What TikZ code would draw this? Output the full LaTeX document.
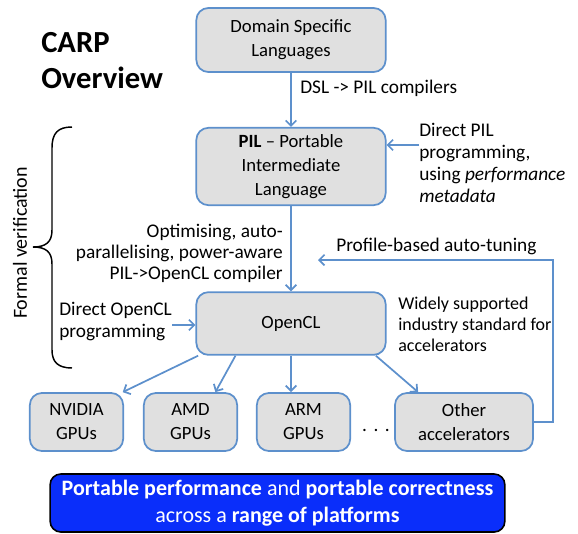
\documentclass[tikz,border=0pt]{standalone}
\usepackage{fontspec}
\setmainfont{Carlito}
\usepackage{xcolor}
\usepackage{tikz}
\usetikzlibrary{arrows.meta,positioning}

\definecolor{edgeblue}{RGB}{93,144,204}
\definecolor{boxgray}{RGB}{224,224,224}
\definecolor{perfblue}{RGB}{10,46,250}

\begin{document}
\begin{tikzpicture}[
    x=0.75pt,y=-0.75pt,
    every node/.style={font=\fontsize{14.5}{16.5}\selectfont},
    box/.style={draw=edgeblue,fill=boxgray,line width=1.3pt,rounded corners=9pt,
        align=center,inner sep=2pt,font=\fontsize{14}{18}\selectfont},
    smallbox/.style={box,minimum width=70pt,minimum height=43.5pt},
    flow/.style={draw=edgeblue,line width=1.3pt,-{Straight Barb[length=4pt,width=8pt]}},
    note/.style={align=left,inner sep=0pt},
]
\useasboundingbox (0,0) rectangle (578,533);

% Title
\node[anchor=north west,align=left,inner sep=0pt,font=\fontsize{23}{27}\selectfont\bfseries]
    (title) at (41,32) {CARP\\Overview};

% Main flow
\node[box,minimum width=142pt,minimum height=48pt] (dsl) at (291,40) {Domain Specific\\Languages};
\node[box,minimum width=142pt,minimum height=58pt] (pil) at (291,166.5)
    {\textbf{PIL} -- Portable\\Intermediate\\Language};
\node[box,minimum width=142pt,minimum height=47pt] (ocl) at (291,323.5) {OpenCL};

% Targets
\foreach \x/\name/\lab in {76.5/nvidia/NVIDIA, 190.5/amd/AMD, 303.5/arm/ARM} {
    \node[smallbox] (\name) at (\x,422) {\lab\\GPUs};
}
\node[box,minimum width=103.5pt,minimum height=43.5pt] (other) at (464,422) {Other\\accelerators};
\node (dots) at (376,430) {.\,\,.\,\,.};

% Result
\node[draw=black,fill=perfblue,text=white,line width=1.2pt,rounded corners=8pt,
    minimum width=341pt,minimum height=43.5pt,align=center,inner sep=2pt,
    font=\fontsize{16.5}{20}\selectfont] (perf) at (277.5,503)
    {\textbf{Portable performance} and \textbf{portable correctness}\\
     across a \textbf{range of platforms}};

% Annotations
\node[note,anchor=west] (dsllab) at (300,88) {DSL -> PIL compilers};
\node[note,anchor=north west] (pilprog) at (419,123)
    {Direct PIL\\programming,\\using \textit{performance}\\\textit{metadata}};
\node[note,anchor=east,align=right,font=\fontsize{14.5}{15.75}\selectfont] (compiler) at (283,253)
    {Optimising, auto-\\parallelising, power-aware\\PIL->OpenCL compiler};
\node[note,anchor=west] (tunelab) at (336,246) {Profile-based auto-tuning};
\node[note,anchor=west] (oclprog) at (59,322) {Direct OpenCL\\programming};
\node[note,anchor=west,font=\fontsize{13.5}{15.75}\selectfont] (industry) at (398,324)
    {Widely supported\\industry standard for\\accelerators};
\node[rotate=90,font=\fontsize{15}{16}\selectfont] (formal) at (20,243) {Formal verification};

% Arrows
\draw[flow] (dsl) -- (pil);
\draw[flow] (pil) -- (ocl);
\draw[flow] (pilprog.west |- 0,145) coordinate (pilin) -- (pil.east |- pilin);
\draw[flow] (oclprog.east |- 0,325) coordinate (oclin) -- (ocl.west |- oclin);
\draw[flow] ([xshift=2pt]ocl.south west) -- ([xshift=-1pt]nvidia.north east);
\draw[flow] ([xshift=30pt]ocl.south west) -- ([xshift=-17pt]amd.north east);
\draw[flow] (ocl.south) -- (ocl.south |- arm.north);
\draw[flow] ([xshift=-8pt]ocl.south east) -- ([xshift=18pt]other.north west);

% Feedback loop
\coordinate (fbcorner) at (553,260);
\coordinate (fbend) at (318,260);
\draw[flow] (other.east) -| (fbcorner) -- (fbend);

% Brace
\draw[line width=1.1pt] (72,127) .. controls (58,127) and (52,133) .. (52,148)
    -- (52,230) .. controls (52,242) and (46,247) .. (33,247)
    .. controls (46,247) and (52,252) .. (52,264)
    -- (52,350) .. controls (52,362) and (58,368) .. (72,368);
\end{tikzpicture}
\end{document}
